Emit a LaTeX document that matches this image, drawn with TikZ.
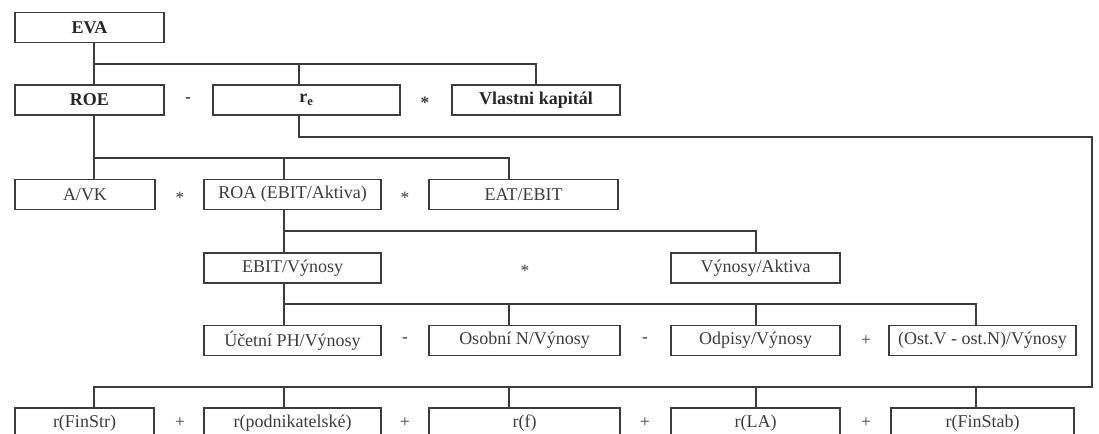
\documentclass[tikz,border=0pt]{standalone}
\usepackage{fontspec}
\setmainfont{Liberation Serif}
\usetikzlibrary{positioning}
\definecolor{encre}{RGB}{60,60,60}

\begin{document}
\begin{tikzpicture}[x=0.75pt,y=-0.75pt,
    boite/.style={draw=encre,line width=1pt,text=encre,inner sep=0pt,
      minimum width=#1*0.75pt,minimum height=22.5pt,
      font=\fontsize{13.5}{15}\selectfont},
    gras/.style={boite=#1,text=black!85,font=\fontsize{13.5}{15}\selectfont\bfseries},
    op/.style={text=encre,font=\fontsize{13}{15}\selectfont},
    lien/.style={draw=encre,line width=1pt}]
        \useasboundingbox (0,0) rectangle (1099,434);
        \clip (0,0) rectangle (1099,434);

        % Colonnes et niveaux des liaisons
        \coordinate (k1) at (94,0);
        \coordinate (k2) at (284,0);
        \coordinate (k3) at (509,0);
        \coordinate (k4) at (756,0);
        \coordinate (k5) at (976,0);
        \coordinate (kr) at (299,0);
        \coordinate (kd) at (1092,0);
        \coordinate (l1) at (0,64);
        \coordinate (l0) at (0,137);
        \coordinate (l2) at (0,158);
        \coordinate (l3) at (0,231);
        \coordinate (l4) at (0,304);
        \coordinate (l5) at (0,387);

        % Boites
        \node[gras=149] (eva) at (89.5,27.5) {EVA};

        \node[gras=149] (roe) at (89.5,100) {ROE};
        \node[gras=187] (re) at (306.5,100) {r\textsubscript{e}};
        \node[gras=168] (vk) at (536,100) {Vlastni kapitál};

        \node[boite=140] (avk) at (85,194.5) {A/VK};
        \node[boite=177] (roa) at (292.5,194.5) {ROA (EBIT/Aktiva)};
        \node[boite=189] (eat) at (523.5,194.5) {EAT/EBIT};

        \node[boite=177] (ebv) at (292.5,268) {EBIT/Výnosy};
        \node[boite=169] (vya) at (755.5,268) {Výnosy/Aktiva};

        \node[boite=177] (uc) at (292.5,340.5) {Účetní PH/Výnosy};
        \node[boite=191] (os) at (524.5,340.5) {Osobní N/Výnosy};
        \node[boite=169] (odp) at (755.5,340.5) {Odpisy/Výnosy};
        \node[boite=187] (ost) at (982.5,340.5) {(Ost.V - ost.N)/Výnosy};

        \node[boite=139] (fs) at (84.5,423) {r(FinStr)};
        \node[boite=177] (pod) at (292.5,423) {r(podnikatelské)};
        \node[boite=191] (rf) at (524.5,423) {r(f)};
        \node[boite=169] (la) at (755.5,423) {r(LA)};
        \node[boite=183] (fst) at (982.5,423) {r(FinStab)};

        % Operateurs
        \node[op,font=\fontsize{13}{15}\selectfont\bfseries] (o1) at (188,100) {-};
        \node[op,font=\fontsize{13}{15}\selectfont\bfseries] (o2) at (425,103) {*};
        \node[op] (o3) at (180,198) {*};
        \node[op] (o4) at (405,198) {*};
        \node[op] (o5) at (525,271) {*};
        \node[op] (o6) at (405,340.5) {-};
        \node[op] (o7) at (645,340.5) {-};
        \node[op] (o8) at (866,340.5) {+};
        \node[op] (o9) at (180,423) {+};
        \node[op] (o10) at (405,423) {+};
        \node[op] (o11) at (645,423) {+};
        \node[op] (o12) at (866,423) {+};

        % Liaisons
        \draw[lien] (eva.south -| k1) |- (l1 -| vk) -- (vk.north);
        \draw[lien] (l1 -| k1) -- (roe.north -| k1);
        \draw[lien] (l1 -| kr) -- (re.north -| kr);

        \draw[lien] (roe.south -| k1) -- (avk.north -| k1);
        \draw[lien] (l2 -| k1) -| (eat.north -| k3);
        \draw[lien] (l2 -| k2) -- (roa.north -| k2);

        \draw[lien] (roa.south -| k2) -- (ebv.north -| k2);
        \draw[lien] (l3 -| k2) -| (vya.north -| k4);

        \draw[lien] (ebv.south -| k2) -- (uc.north -| k2);
        \draw[lien] (l4 -| k2) -| (ost.north -| k5);
        \draw[lien] (l4 -| k3) -- (os.north -| k3);
        \draw[lien] (l4 -| k4) -- (odp.north -| k4);

        \draw[lien] (re.south -| kr) |- (l0 -| kd) |- (l5 -| k1) -- (fs.north -| k1);
        \foreach \k/\b in {k2/pod,k3/rf,k4/la,k5/fst}
          \draw[lien] (l5 -| \k) -- (\b.north -| \k);
    \end{tikzpicture}
\end{document}
